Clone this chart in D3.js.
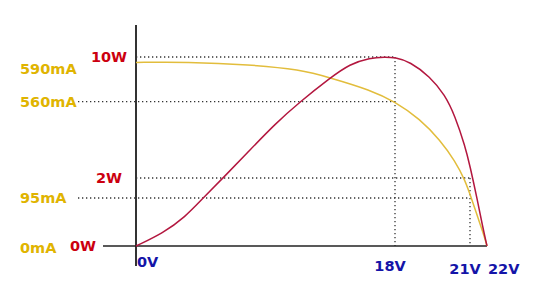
<!DOCTYPE html>
<html>
<head>
<meta charset="utf-8">
<script src="https://cdn.jsdelivr.net/npm/d3@7"></script>
<style>
  body { margin: 0; background: #fff; }
  text { font-family: "DejaVu Sans", sans-serif; font-weight: bold; font-size: 14.5px; }
</style>
</head>
<body>
<div id="chart"></div>
<script>
// voltage ticks (V), current ticks (mA), power ticks (W)
const voltTicks = [0, 18, 21, 22];
const currentTicks = [0, 95, 560, 590];
const powerTicks = [0, 2, 10];

// I-V curve
const ivVolts = [0, 3.5, 7.9, 11.4, 13.5, 16.3, 18, 19, 19.8, 20.4, 20.8, 21.12, 21.47, 21.76, 22];
const ivCurrent = [596, 596.5, 594.1, 589.5, 582, 570.7, 560, 476.5, 375, 273.7, 181.9, 91, 55.4, 27.7, 0];

// P-V curve
const pvVolts = [0, 1.88, 3.41, 4.66, 6.18, 7.92, 9.66, 11.4, 13.48, 14.87, 16.26, 17.3, 18, 18.6, 19.4, 20, 20.4, 20.8, 21, 21.41, 21.76, 22];
const pvPower = [0, 0.38, 0.85, 1.41, 2.13, 3.85, 5.57, 7.04, 8.61, 9.54, 9.95, 10, 9.97, 9.69, 8.7, 7.49, 6.1, 4.12, 2.79, 1.41, 0.53, 0];

const width = 540, height = 296;
const svg = d3.select("#chart").append("svg")
  .attr("width", width).attr("height", height);

// the original is schematic, so the scales are piecewise
const x = d3.scaleLinear().domain(voltTicks).range([136, 395, 470, 487]);
const yI = d3.scaleLinear().domain(currentTicks).range([246, 198, 101.7, 69]);
const yP = d3.scaleLinear().domain(powerTicks).range([246, 178, 57]);

const axisX = x(0);
const dotted = "1.3,2.7";

// guide lines
const guides = [
  [axisX, yP(10), x(18), yP(10)],
  [78, yI(560), x(18), yI(560)],
  [axisX, yP(2), x(21), yP(2)],
  [78, yI(95), x(21), yI(95)],
  [x(18), yP(10), x(18), yP(0)],
  [x(21), yP(2), x(21), yP(0)]
];
svg.append("g").selectAll("line").data(guides).enter().append("line")
  .attr("x1", d => d[0]).attr("y1", d => d[1])
  .attr("x2", d => d[2]).attr("y2", d => d[3])
  .attr("stroke", "#333").attr("stroke-width", 1.3)
  .attr("stroke-dasharray", dotted);

// axes
svg.append("line")
  .attr("x1", axisX).attr("x2", axisX).attr("y1", 25).attr("y2", 266)
  .attr("stroke", "#333").attr("stroke-width", 2);
svg.append("line")
  .attr("x1", 103).attr("x2", x(22)).attr("y1", yP(0)).attr("y2", yP(0))
  .attr("stroke", "#222").attr("stroke-width", 1.6);

// curves
const ivLine = d3.line().x(d => x(d[0])).y(d => yI(d[1])).curve(d3.curveBasis);
const pvLine = d3.line().x(d => x(d[0])).y(d => yP(d[1])).curve(d3.curveBasis);

svg.append("path")
  .datum(ivVolts.map((v, i) => [v, ivCurrent[i]]))
  .attr("d", ivLine)
  .attr("fill", "none").attr("stroke", "#e2bd3c").attr("stroke-width", 1.5);

svg.append("path")
  .datum(pvVolts.map((v, i) => [v, pvPower[i]]))
  .attr("d", pvLine)
  .attr("fill", "none").attr("stroke", "#b3173f").attr("stroke-width", 1.5);

// current labels
svg.append("g").selectAll("text").data(currentTicks).enter().append("text")
  .attr("x", 20)
  .attr("y", d => yI(d) + (d === 0 ? 2 : 0))
  .attr("dy", "0.36em")
  .attr("fill", "#e0b400")
  .text(d => d + "mA");

// power labels
svg.append("g").selectAll("text").data(powerTicks).enter().append("text")
  .attr("x", d => d === 0 ? 96 : 109)
  .attr("y", d => yP(d))
  .attr("dy", "0.36em")
  .attr("text-anchor", d => d === 0 ? "end" : "middle")
  .attr("fill", "#cc0010")
  .text(d => d + "W");

// voltage labels
const vBase = [267, 271, 273.5, 273.5];
svg.append("g").selectAll("text").data(voltTicks).enter().append("text")
  .attr("x", (d, i) => i === 0 || i === voltTicks.length - 1 ? x(d) + 1 : x(d) - 5)
  .attr("y", (d, i) => vBase[i])
  .attr("text-anchor", (d, i) => i === 0 || i === voltTicks.length - 1 ? "start" : "middle")
  .attr("fill", "#1414a8")
  .text(d => d + "V");
</script>
</body>
</html>
